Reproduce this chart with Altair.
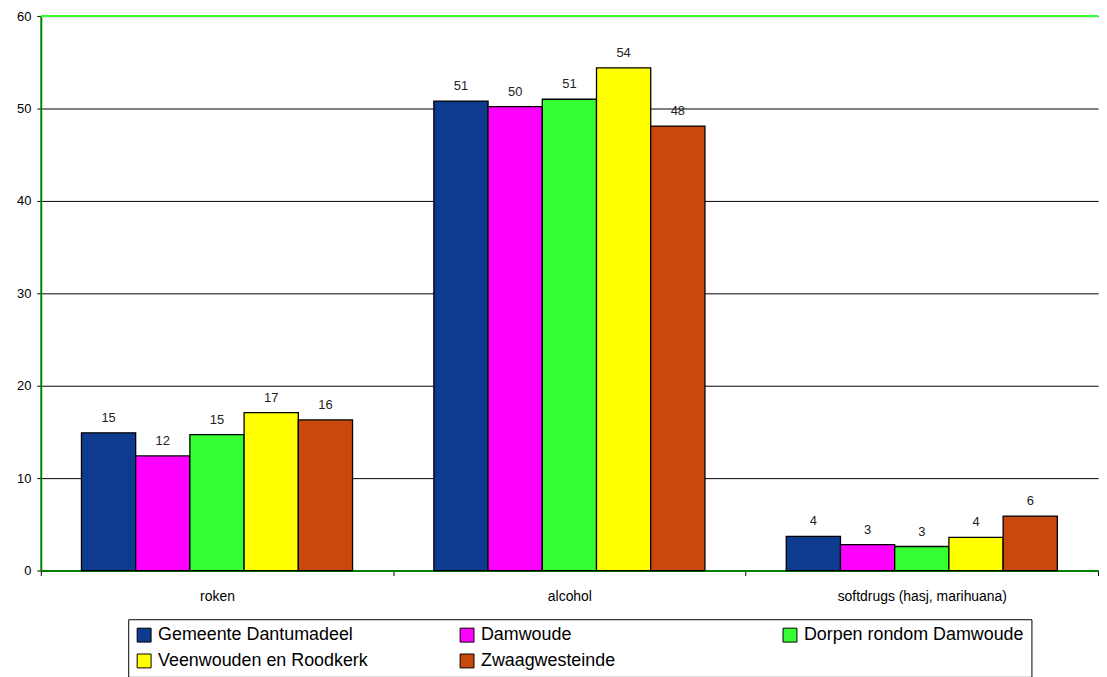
import altair as alt
import pandas as pd

categories = ["roken", "alcohol", "softdrugs (hasj, marihuana)"]
series = ["Gemeente Dantumadeel", "Damwoude", "Dorpen rondom Damwoude",
          "Veenwouden en Roodkerk", "Zwaagwesteinde"]
colors = ["#0E3A90", "#FF00FF", "#33FF33", "#FFFF00", "#C9490C"]

gemeente = [14.9, 50.8, 3.7]
damwoude = [12.4, 50.2, 2.8]
dorpen = [14.7, 51.0, 2.6]
veenwouden = [17.1, 54.4, 3.6]
zwaag = [16.3, 48.1, 5.9]

y_ticks = [0, 10, 20, 30, 40, 50, 60]

rows = []
for s, vals in zip(series, [gemeente, damwoude, dorpen, veenwouden, zwaag]):
    for c, v in zip(categories, vals):
        rows.append({"cat": c, "series": s, "value": v})
df = pd.DataFrame(rows)

FONT = "Liberation Sans"

x_enc = alt.X("cat:N", sort=categories,
              scale=alt.Scale(paddingInner=0, paddingOuter=0),
              axis=alt.Axis(title=None, labelAngle=0, labelFontSize=14,
                            labelColor="black", labelPadding=14,
                            domainColor="#008000", domainWidth=2,
                            tickColor="black", tickSize=5, tickBand="extent",
                            grid=False, labelFont=FONT))
xo_enc = alt.XOffset("series:N", sort=series,
                     scale=alt.Scale(paddingInner=0, paddingOuter=0.75))
y_enc = alt.Y("value:Q",
              scale=alt.Scale(domain=[0, 60], nice=False),
              axis=alt.Axis(title=None, values=y_ticks, labelFontSize=13,
                            labelColor="black", labelPadding=6,
                            domainColor="#008000", domainWidth=2,
                            tickColor="black", tickSize=4,
                            grid=True, gridColor="black", gridWidth=1,
                            labelFont=FONT))

base = alt.Chart(df).encode(x=x_enc, xOffset=xo_enc)

bars = base.mark_bar(stroke="black", strokeWidth=1.3).encode(
    y=y_enc,
    color=alt.Color("series:N",
                    scale=alt.Scale(domain=series, range=colors),
                    legend=alt.Legend(
                        title=None, orient="none", legendX=88, legendY=607,
                        direction="horizontal", columns=3,
                        symbolType="square", symbolSize=196,
                        symbolStrokeColor="black", symbolStrokeWidth=1,
                        labelFontSize=18, labelFont=FONT, labelColor="black",
                        labelLimit=400, labelOffset=5,
                        columnPadding=80, rowPadding=8, padding=7,
                        gridAlign="all", strokeColor="black",
                        fillColor="white")),
)

labels = base.mark_text(baseline="bottom", dy=-8, fontSize=13, font=FONT,
                        color="#222222").encode(
    y=alt.Y("value:Q"),
    text=alt.Text("value:Q", format=".0f"),
)

top = alt.Chart(pd.DataFrame({"v": [60]})).mark_rule(
    color="#33FF33", strokeWidth=2).encode(y=alt.Y("v:Q"))

chart = alt.layer(bars, labels, top).properties(
    width=1064, height=558,
    padding={"left": 8, "top": 0, "right": 0, "bottom": 0},
).configure_view(stroke=None)

chart.save("out.html", embed_options={"renderer": "svg", "actions": False})
